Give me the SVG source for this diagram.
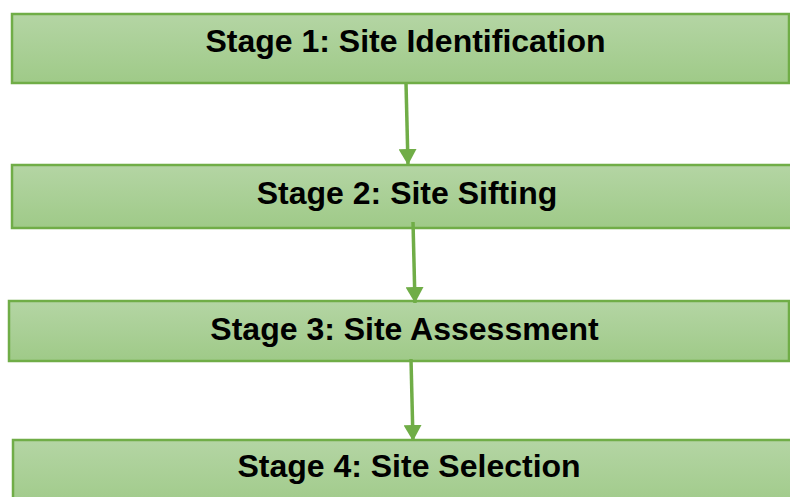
<svg xmlns="http://www.w3.org/2000/svg" width="790" height="497" viewBox="0 0 790 497">
<defs>
<linearGradient id="g" x1="0" y1="0" x2="0" y2="1">
<stop offset="0" stop-color="#b4d5a4"/>
<stop offset="1" stop-color="#9fca88"/>
</linearGradient>
<marker id="ah" markerUnits="userSpaceOnUse" markerWidth="18" markerHeight="18" refX="16" refY="9" orient="auto">
<path d="M0,0 L16,9 L0,18 Z" fill="#70ad47"/>
</marker>
<style>
.box{fill:url(#g);stroke:#70ad47;stroke-width:2.5}
.lbl{font-family:"Liberation Sans",Arial,sans-serif;font-weight:bold;font-size:32px;fill:#000;text-anchor:middle}
.con{stroke:#70ad47;stroke-width:3.5;fill:none;marker-end:url(#ah)}
</style>
</defs>
<rect width="790" height="497" fill="#fff"/>
<g id="stage1"><rect class="box" x="12" y="14" width="777" height="69"/><text class="lbl" x="405.5" y="51.5">Stage 1: Site Identification</text></g>
<g id="stage2"><rect class="box" x="12" y="165" width="790" height="63"/><text class="lbl" x="407" y="204">Stage 2: Site Sifting</text></g>
<g id="stage3"><rect class="box" x="9" y="301" width="780" height="60"/><text class="lbl" x="404.5" y="340">Stage 3: Site Assessment</text></g>
<g id="stage4"><rect class="box" x="13" y="440" width="790" height="70"/><text class="lbl" x="409" y="477">Stage 4: Site Selection</text></g>
<g id="connectors">
<line class="con" x1="406" y1="83" x2="408" y2="165"/>
<line class="con" x1="413" y1="222" x2="415" y2="303"/>
<line class="con" x1="411" y1="359" x2="413" y2="441"/>
</g>
</svg>
